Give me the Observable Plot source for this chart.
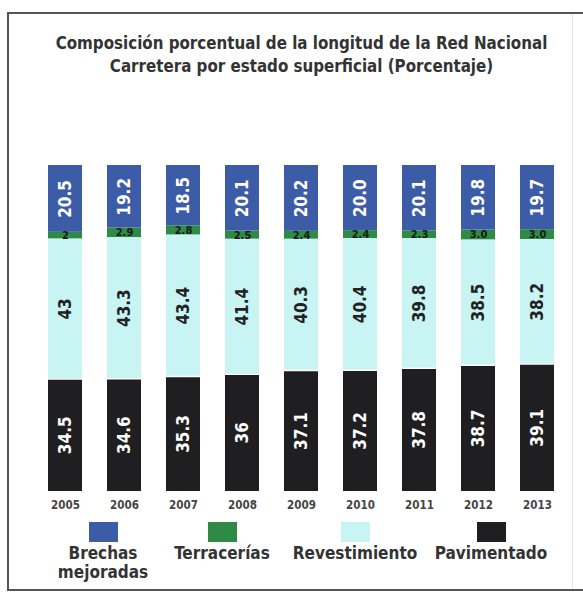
<!DOCTYPE html>
<html>
<head>
<meta charset="utf-8">
<script src="https://cdn.jsdelivr.net/npm/d3@7"></script>
<script src="https://cdn.jsdelivr.net/npm/@observablehq/plot@0.6"></script>
<style>
  html, body { margin: 0; padding: 0; background: #fff; overflow: hidden; }
  #wrap { position: relative; width: 583px; height: 592px; overflow: hidden;
    font-family: "DejaVu Sans Condensed", "Liberation Sans Narrow", "DejaVu Sans", sans-serif; }
  #frame { position: absolute; left: 7px; top: 12px; width: 590px; height: 575px;
    border-left: 2px solid #555; border-top: 2px solid #555; border-bottom: 2px solid #555; }
  #rline { position: absolute; left: 572px; top: 14px; width: 1px; height: 575px; background: #e4e4e4; }
  #title { position: absolute; left: 0; top: 32px; width: 603px; text-align: center;
    font-weight: bold; font-size: 16.8px; line-height: 23px; color: #333; }
  #chart { position: absolute; left: 0; top: 0; }
  .leg { position: absolute; top: 522px; text-align: center; font-weight: bold;
    font-size: 17px; line-height: 19px; color: #333; }
  .sw { width: 29px; height: 20px; margin: 0 auto 2px auto; }
</style>
</head>
<body>
<div id="wrap">
  <div id="frame"></div>
  <div id="rline"></div>
  <div id="title">Composición porcentual de la longitud de la Red Nacional<br>Carretera por estado superficial (Porcentaje)</div>
  <div id="chart"></div>
  <div id="legend"></div>
</div>
<script>
const years = ["2005","2006","2007","2008","2009","2010","2011","2012","2013"];
const pavimentado   = ["34.5","34.6","35.3","36","37.1","37.2","37.8","38.7","39.1"];
const revestimiento = ["43","43.3","43.4","41.4","40.3","40.4","39.8","38.5","38.2"];
const terracerias   = ["2","2.9","2.8","2.5","2.4","2.4","2.3","3.0","3.0"];
const brechas       = ["20.5","19.2","18.5","20.1","20.2","20.0","20.1","19.8","19.7"];

const seriesNames = ["Pavimentado","Revestimiento","Terracerías","Brechas mejoradas"];
const seriesValues = [pavimentado, revestimiento, terracerias, brechas];
const colors = ["#1f1f21","#c9f4f4","#2e8a44","#3c5ca7"];
const labelColors = ["#ffffff","#222222","#1a1a1a","#ffffff"];

// build stacked rows (bottom-up)
const rows = [];
years.forEach((yr, i) => {
  let base = 0;
  seriesValues.forEach((arr, s) => {
    const v = +arr[i];
    rows.push({year: yr, serie: seriesNames[s], label: arr[i], y1: base, y2: base + v, mid: base + v / 2, s});
    base += v;
  });
});

const font = "'DejaVu Sans Condensed', 'Liberation Sans Narrow', 'DejaVu Sans', sans-serif";
const plot = Plot.plot({
  width: 583,
  height: 520,
  marginTop: 165,
  marginBottom: 29,
  marginLeft: 34,
  marginRight: 16,
  style: {fontFamily: font, background: "transparent"},
  x: {domain: years, paddingInner: 0.425, paddingOuter: 0.2125, label: null},
  y: {domain: [0, 100], axis: null},
  color: {domain: seriesNames, range: colors},
  marks: [
    Plot.barY(rows, {x: "year", y1: "y1", y2: "y2", fill: "serie"}),
    // thin white gap above pavimentado
    Plot.tickY(rows.filter(d => d.s === 0), {x: "year", y: "y2", stroke: "#fff", strokeWidth: 1.5}),
    Plot.text(rows.filter(d => d.s !== 2), {x: "year", y: "mid", text: "label", rotate: -90,
      fill: d => labelColors[d.s], fontSize: 17, fontWeight: "bold"}),
    Plot.text(rows.filter(d => d.s === 2), {x: "year", y: "mid", text: "label",
      fill: "#1a1a1a", fontSize: 11, fontWeight: "bold"}),
    Plot.axisX({tickSize: 0, tickPadding: 9, fontSize: 11.5, fontWeight: "bold", fill: "#444", label: null})
  ]
});
document.getElementById("chart").appendChild(plot);

// legend below the SVG
const color = plot.scale("color");
const legendOrder = ["Brechas mejoradas","Terracerías","Revestimiento","Pavimentado"];
const legendText = {"Brechas mejoradas": "Brechas<br>mejoradas"};
const legendCenters = [103, 222, 355, 491];
const legend = document.getElementById("legend");
legendOrder.forEach((name, i) => {
  const el = document.createElement("div");
  el.className = "leg";
  el.style.width = "150px";
  el.style.left = (legendCenters[i] - 75) + "px";
  const sw = document.createElement("div");
  sw.className = "sw";
  sw.style.background = color.apply(name);
  el.appendChild(sw);
  const t = document.createElement("div");
  t.innerHTML = legendText[name] || name;
  el.appendChild(t);
  legend.appendChild(el);
});
</script>
</body>
</html>
